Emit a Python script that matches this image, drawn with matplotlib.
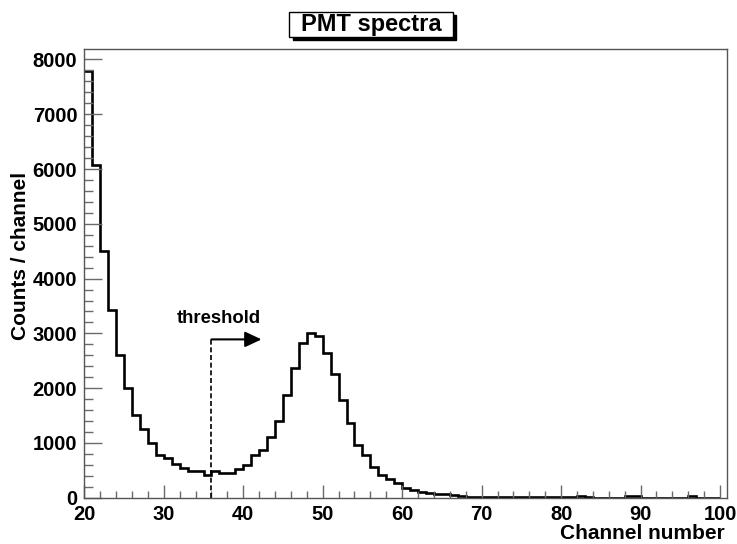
#!/usr/bin/env python3

import matplotlib
matplotlib.use("Agg")
import matplotlib.pyplot as plt
from matplotlib.patches import Rectangle
from matplotlib.ticker import MultipleLocator


# channel bin edges (1 channel wide, 20..100) and counts per bin
edges = list(range(20, 101))
counts = [
    7790, 6070, 4500, 3425, 2600, 2000, 1505, 1255, 1000, 785,   # 20-29
    718, 608, 547, 493, 493, 414, 487, 456, 456, 530,            # 30-39
    596, 779, 865, 1113, 1395, 1874, 2375, 2832, 3015, 2950,     # 40-49
    2640, 2260, 1790, 1365, 961, 779, 555, 420, 341, 274,        # 50-59
    185, 140, 103, 88, 67, 60, 43, 25, 22, 20,                   # 60-69
    18, 17, 15, 15, 13, 12, 10, 6, 5, 4,                         # 70-79
    4, 4, 30, 4, 3, 3, 3, 3, 28, 28,                             # 80-89
    3, 3, 3, 3, 3, 3, 25, 3, 2, 2,                               # 90-99
]

title = "PMT spectra"
x_title = "Channel number"
y_title = "Counts / channel"
threshold_label = "threshold"
threshold_channel = 36
threshold_height = 2890
threshold_arrow_end = 42.3


def main() -> None:
    plt.rcParams["font.family"] = ["Liberation Sans", "DejaVu Sans"]
    plt.rcParams["font.weight"] = "bold"

    fig = plt.figure(figsize=(7.37, 5.44), dpi=100)
    ax = fig.add_axes((0.1144, 0.0851, 0.8716, 0.8243))

    ax.stairs(counts, edges, baseline=None, color="black", linewidth=1.9)

    # threshold marker: dashed drop line + arrow pointing right
    ax.plot([threshold_channel, threshold_channel], [0, threshold_height],
            color="black", linestyle=(0, (3, 1.6)), linewidth=1.2)
    ax.annotate("", xy=(threshold_arrow_end, threshold_height),
                xytext=(threshold_channel, threshold_height),
                arrowprops=dict(arrowstyle="-|>,head_length=1.0,head_width=0.47",
                                mutation_scale=10, color="black", linewidth=1.5,
                                shrinkA=0, shrinkB=0))
    ax.text(36.9, 3182, threshold_label, ha="center", va="baseline",
            fontsize=13.3, fontweight="bold")

    ax.set_xlim(20, 100.84)
    ax.set_ylim(0, 8186)

    ax.xaxis.set_major_locator(MultipleLocator(10))
    ax.xaxis.set_minor_locator(MultipleLocator(2))
    ax.yaxis.set_major_locator(MultipleLocator(1000))
    ax.yaxis.set_minor_locator(MultipleLocator(200))

    tick_color = "#6a6a6a"
    ax.tick_params(axis="both", which="both", direction="in", color=tick_color,
                   top=False, right=False, labelsize=14.5, width=1.0)
    ax.tick_params(axis="x", which="major", length=9.7, pad=5)
    ax.tick_params(axis="x", which="minor", length=5)
    ax.tick_params(axis="y", which="major", length=13.3, pad=5)
    ax.tick_params(axis="y", which="minor", length=6.8)
    for lab in ax.get_xticklabels() + ax.get_yticklabels():
        lab.set_fontweight("bold")

    for spine in ax.spines.values():
        spine.set_color("#555555")
        spine.set_linewidth(1.0)

    fig.text(725 / 737, 1 - 539 / 544, x_title, ha="right", va="baseline",
             fontsize=15, fontweight="bold")
    fig.text(21 / 737, 1 - 256 / 544, y_title, ha="center", va="center",
             rotation=90, fontsize=15, fontweight="bold")

    # ROOT-style title pave with drop shadow
    bx, by, bw, bh = 289 / 737, 1 - 36.5 / 544, 164 / 737, 24.8 / 544
    fig.patches.append(Rectangle((bx + 3.5 / 737, by - 3.5 / 544), bw, bh,
                                 transform=fig.transFigure, facecolor="black",
                                 edgecolor="black", zorder=1))
    fig.patches.append(Rectangle((bx, by), bw, bh, transform=fig.transFigure,
                                 facecolor="white", edgecolor="black",
                                 linewidth=1.0, zorder=2))
    fig.text(bx + bw / 2, by + bh / 2, title, ha="center", va="center",
             fontsize=17, fontweight="bold", zorder=3)

    fig.savefig("out.png", dpi=100)
    plt.close(fig)


if __name__ == "__main__":
    main()
